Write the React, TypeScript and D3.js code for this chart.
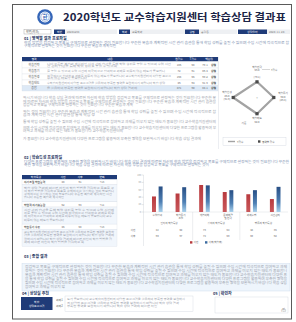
import React from "react";
import * as d3 from "d3";

const W = 296;
const H = 322;
const FONT = "'Noto Sans CJK KR', 'Noto Sans', sans-serif";
const NAVY = "#1f3b78";
const GREY = "#9aa0ab";

const titleText = "2020학년도 교수학습지원센터 학습상담 결과표";
const infoLabels = ["학번", "학과", "성명", "상담일자"];
const infoValues = ["20201234", "교육학과", "홍길동", "2020. 11. 20."];

const profileAreas = ["학습전략", "학습동기", "학습환경", "학습태도", "종합"];
const profileRaw = [185, 72, 168, 46, 471];
const profileT = [58, 61, 55, 64, 60];
const profilePct = ["79.1", "86.4", "69.2", "91.9", "84.1"];

const radarAxes = ["학습전략", "학습동기", "학습태도", "학습환경"];
const radarValues = [56, 60, 58, 85];

const barCategories = ["수업참여", "학습동기 조절", "개념이해", "문제해결 및 전략", "과제수행", "시간관리"];
const groupLabels = ["인지적 학습특성", "정의적 학습특성", "행동적 학습특성"];
const preScores = [42, 50, 73, 54, 48, 35];
const postScores = [69, 67, 72, 59, 59, 68];
const seriesNames = ["사전", "사후"];
const yTicks = [0, 20, 40, 60, 80, 100];

const traitRows = ["자기조절 학습능력", "학업적 자기효능감", "학습동기 수준"];
const traitPre = [48, 52, 45];
const traitPost = [61, 63, 58];

const filler =
  "학습 상담 결과에 따르면 자신의 학습 방법을 점검하고 목표를 구체적으로 설정하는 것이 필요합니다 꾸준한 복습과 계획적인 시간 관리 습관을 통해 학업 성취를 높일 수 있으며 수업 시간에 적극적으로 참여하고 과제를 미루지 않는 태도가 중요합니다 교수학습지원센터의 다양한 프로그램을 활용하여 부족한 영역을 보완하시기 바랍니다 ";

function fill(n: number, off: number) {
  let s = "";
  let i = off % filler.length;
  while (s.length < n) {
    s += filler[i];
    i = (i + 1) % filler.length;
  }
  return s;
}

let seed = 0;
function Line({ x, y, w, size = 3, color = GREY, weight = 400 }: any) {
  seed += 17;
  const n = Math.max(3, Math.round(w / (size * 0.95)));
  return (
    <text x={x} y={y} fontSize={size} fill={color} fontWeight={weight} textLength={w} lengthAdjust="spacingAndGlyphs">
      {fill(n, seed)}
    </text>
  );
}

function Heading({ x, y, num, label }: any) {
  return (
    <text x={x} y={y} fontSize={4} fontWeight={700} fill="#23345e">
      {num} | {label}
    </text>
  );
}

export default function App() {
  seed = 0;
  const xBand = d3.scaleBand<string>().domain(barCategories).range([145.5, 287]).padding(0);
  const xInner = d3.scaleBand<string>().domain(seriesNames).range([-5.3, 5.3]).paddingInner(0.4);
  const yScale = d3.scaleLinear().domain([0, 100]).range([212, 175]);

  const rScale = d3.scaleLinear().domain([0, 100]).range([0, 28]);
  const cx = 257;
  const cy = 97.5;
  const radial = d3
    .lineRadial<number>()
    .angle((_, i) => (i * Math.PI) / 2)
    .radius((d) => rScale(d))
    .curve(d3.curveLinearClosed);
  const radarPts = radarValues.map((v, i) => {
    const a = (i * Math.PI) / 2;
    return [cx + Math.sin(a) * rScale(v), cy - Math.cos(a) * rScale(v)];
  });

  const infoBoxes = [
    { x: 54, w: 11, fx: 65, fw: 52 },
    { x: 119, w: 11, fx: 130, fw: 55 },
    { x: 185, w: 14, fx: 199, fw: 38 },
    { x: 238, w: 29, fx: 267, fw: 23 },
  ];

  const t1Rows = [
    { y0: 61.5, y1: 68 },
    { y0: 68, y1: 74 },
    { y0: 74, y1: 80 },
    { y0: 80, y1: 85.5 },
    { y0: 85.5, y1: 91 },
  ];

  return (
    <div style={{ position: "absolute", left: 0, top: 0, width: W, height: H, background: "#fff" }}>
      <svg width={W} height={H} viewBox={`0 0 ${W} ${H}`} style={{ display: "block", fontFamily: FONT }}>
        <defs>
          <linearGradient id="gPre" x1="0" y1="0" x2="0" y2="1">
            <stop offset="0" stopColor="#b83a3e" />
            <stop offset="1" stopColor="#c9585b" />
          </linearGradient>
          <linearGradient id="gPost" x1="0" y1="0" x2="0" y2="1">
            <stop offset="0" stopColor="#284f85" />
            <stop offset="0.6" stopColor="#4f80b4" />
            <stop offset="1" stopColor="#a9d1ec" />
          </linearGradient>
        </defs>
        <rect x={0} y={0} width={W} height={H} fill="#fff" />
        <rect x={12.5} y={4.5} width={279} height={314.5} fill="#fff" stroke="#5a5a5a" strokeWidth={1} />

        {/* title */}
        <circle cx={45} cy={17} r={7.8} fill="#3566b8" />
        <circle cx={45} cy={17} r={5.4} fill="#fff" />
        <circle cx={45} cy={17} r={4.2} fill="none" stroke="#3566b8" strokeWidth={0.5} />
        <text x={45} y={19.1} fontSize={5.5} fontWeight={700} fill="#3566b8" textAnchor="middle">한</text>
        <text x={63} y={21} fontSize={10} fontWeight={700} fill="#1b2446" textLength={223} lengthAdjust="spacingAndGlyphs">
          {titleText}
        </text>

        {/* info row */}
        <rect x={24} y={29.5} width={27} height={4.5} fill="#fff" stroke="#999" strokeWidth={0.4} />
        <text x={26} y={32.9} fontSize={3} fill="#555">학번(학과)</text>
        {infoBoxes.map((b, i) => (
          <g key={i}>
            <rect x={b.x} y={29.5} width={b.w} height={4.5} fill={NAVY} />
            <text x={b.x + b.w / 2} y={32.9} fontSize={2.8} fill="#fff" textAnchor="middle">{infoLabels[i]}</text>
            <rect x={b.fx} y={29.5} width={b.fw} height={4.5} fill="#eef0f3" />
            <text x={b.fx + 2} y={32.9} fontSize={2.8} fill="#777">{infoValues[i]}</text>
          </g>
        ))}

        {/* section 01 */}
        <Heading x={24} y={39.5} num="01" label="영역별 결과 프로파일" />
        <Line x={24} y={43.5} w={265} color="#7d8fb0" />
        <Line x={24} y={47} w={92} color="#7d8fb0" />

        <rect x={22} y={57} width={196} height={4.5} fill={NAVY} />
        {["영역", "내용", "원점수", "T점수", "백분위"].map((h, i) => (
          <text key={h} x={[34, 110, 179, 193, 209][i]} y={60.3} fontSize={2.8} fill="#fff" textAnchor="middle">{h}</text>
        ))}
        {t1Rows.map((r, i) => (
          <g key={i}>
            <rect x={22} y={r.y0} width={196} height={r.y1 - r.y0} fill={i === 4 ? "#dde9f6" : "#fff"} stroke="#d4dae3" strokeWidth={0.3} />
            <text x={34} y={(r.y0 + r.y1) / 2 + 1} fontSize={3} fill="#666" textAnchor="middle">{profileAreas[i]}</text>
            {i === 0 ? (
              <>
                <Line x={47} y={64.6} w={124} size={2.6} />
                <Line x={47} y={67.3} w={70} size={2.6} />
              </>
            ) : i === 2 ? (
              <>
                <Line x={47} y={76.8} w={124} size={2.6} />
                <Line x={47} y={79.3} w={40} size={2.6} />
              </>
            ) : (
              <Line x={47} y={(r.y0 + r.y1) / 2 + 1} w={i === 4 ? 90 : 118} size={2.6} />
            )}
            <text x={179} y={(r.y0 + r.y1) / 2 + 1} fontSize={2.8} fill="#666" textAnchor="middle">{profileRaw[i]}</text>
            <text x={193} y={(r.y0 + r.y1) / 2 + 1} fontSize={2.8} fill="#666" textAnchor="middle">{profileT[i]}</text>
            <text x={205} y={(r.y0 + r.y1) / 2 + 1} fontSize={2.8} fill="#666" textAnchor="middle">{profilePct[i]}</text>
            <text x={213.5} y={(r.y0 + r.y1) / 2 + 1} fontSize={2.8} fontWeight={700} fill="#222" textAnchor="middle">상위</text>
          </g>
        ))}

        <Line x={23} y={99} w={193} />
        <Line x={23} y={102.5} w={193} />
        <Line x={23} y={106} w={110} />
        <Line x={23} y={112.5} w={193} />
        <Line x={23} y={116} w={72} />
        <Line x={23} y={122.5} w={193} />
        <Line x={23} y={128.5} w={193} />
        <Line x={23} y={132} w={100} />
        <Line x={23} y={139.5} w={178} />

        {/* radar panel */}
        <line x1={218.5} y1={57} x2={218.5} y2={149} stroke="#d8dde5" strokeWidth={0.5} />
        <path d={radial(radarValues) || ""} transform={`translate(${cx},${cy})`} fill="none" stroke="#a3a3a3" strokeWidth={2.2} strokeLinejoin="round" />
        {radarPts.map((p, i) => (
          <rect key={i} x={p[0] - 1.6} y={p[1] - 1.6} width={3.2} height={3.2} fill="#4a4a4a" />
        ))}
        <text x={257} y={99} fontSize={2.6} fill="#999" textAnchor="middle">T</text>
        <text x={257} y={68} fontSize={2.6} fill="#666" textAnchor="middle">{radarAxes[0]}</text>
        <text x={257} y={71} fontSize={2.6} fill="#666" textAnchor="middle">{radarValues[0]}.0</text>
        <text x={257} y={77.5} fontSize={2.6} fill="#666" textAnchor="middle">({profilePct[0]})</text>
        <line x1={262} y1={69.5} x2={270} y2={69.5} stroke="#999" strokeWidth={0.4} />
        <text x={271} y={70.5} fontSize={2.6} fill="#666">T점수</text>
        <text x={283} y={94} fontSize={2.6} fill="#666" textAnchor="middle">{radarAxes[1]}</text>
        <text x={283} y={97.5} fontSize={2.6} fill="#666" textAnchor="middle">{radarValues[1]}.0</text>
        <text x={283} y={101} fontSize={2.6} fill="#666" textAnchor="middle">({profilePct[1]})</text>
        <text x={257} y={119} fontSize={2.6} fill="#666" textAnchor="middle">{radarAxes[2]}</text>
        <text x={257} y={122.5} fontSize={2.6} fill="#666" textAnchor="middle">{radarValues[2]}.0</text>
        <text x={244} y={124} fontSize={2.6} fill="#666" textAnchor="middle">기준</text>
        <text x={227} y={93} fontSize={2.6} fill="#666" textAnchor="middle">{radarAxes[3]}</text>
        <text x={227} y={96.5} fontSize={2.6} fill="#666" textAnchor="middle">{radarValues[3]}.0</text>
        <text x={227} y={100} fontSize={2.6} fill="#666" textAnchor="middle">({profilePct[3]})</text>
        <rect x={223} y={137.5} width={63} height={8} fill="#fff" stroke="#cfd5de" strokeWidth={0.4} />
        <line x1={228} y1={141.5} x2={235} y2={141.5} stroke="#a3a3a3" strokeWidth={1.4} />
        <text x={237} y={142.5} fontSize={2.6} fill="#555">T점수</text>
        <rect x={258} y={140.3} width={2.4} height={2.4} fill="#4a4a4a" />
        <text x={262} y={142.5} fontSize={2.6} fill="#555">영역별 점수</text>

        {/* section 02 */}
        <Heading x={24} y={158.5} num="02" label="학습특성 프로파일" />
        <Line x={24} y={162.5} w={265} color="#7d8fb0" />
        <Line x={24} y={166} w={185} color="#7d8fb0" />

        <rect x={22} y={175} width={95} height={4.5} fill={NAVY} />
        {["학습특성", "사전", "사후", "변화"].map((h, i) => (
          <text key={h} x={[36, 63, 80, 102][i]} y={178.3} fontSize={2.8} fill="#fff" textAnchor="middle">{h}</text>
        ))}
        {traitRows.map((t, i) => {
          const y0 = 179.5 + i * 22.3;
          return (
            <g key={t}>
              <rect x={22} y={y0} width={95} height={5.2} fill="#fff" stroke="#d4dae3" strokeWidth={0.3} />
              <text x={24} y={y0 + 3.7} fontSize={2.8} fill="#555" fontWeight={700}>{t}</text>
              <text x={63} y={y0 + 3.7} fontSize={2.8} fill="#666" textAnchor="middle">{traitPre[i]}</text>
              <text x={80} y={y0 + 3.7} fontSize={2.8} fill="#666" textAnchor="middle">{traitPost[i]}</text>
              <text x={102} y={y0 + 3.7} fontSize={2.8} fill="#666" textAnchor="middle">+{traitPost[i] - traitPre[i]}</text>
              <rect x={22} y={y0 + 5.2} width={95} height={17.1} fill="#f1f6fc" stroke="#d4dae3" strokeWidth={0.3} />
              <Line x={24} y={y0 + 9} w={90} size={2.6} />
              <Line x={24} y={y0 + 12.3} w={90} size={2.6} />
              <Line x={24} y={y0 + 15.6} w={88} size={2.6} />
              <Line x={24} y={y0 + 18.9} w={i === 2 ? 60 : 40} size={2.6} />
            </g>
          );
        })}

        {/* bar chart */}
        <line x1={143.5} y1={175} x2={143.5} y2={246} stroke="#c9ced6" strokeWidth={0.4} />
        {yTicks.map((t) => (
          <g key={t}>
            <line x1={141.5} y1={yScale(t)} x2={143.5} y2={yScale(t)} stroke="#aaa" strokeWidth={0.3} />
            <text x={141} y={yScale(t) + 0.8} fontSize={2.2} fill="#999" textAnchor="end">{t}</text>
          </g>
        ))}
        <line x1={143.5} y1={212} x2={288} y2={212} stroke="#d0d4da" strokeWidth={0.4} />
        {barCategories.map((c, i) => {
          const gx = (xBand(c) || 0) + xBand.bandwidth() / 2;
          const vals = [preScores[i], postScores[i]];
          return (
            <g key={c}>
              {seriesNames.map((s, j) => (
                <rect
                  key={s}
                  x={gx + (xInner(s) || 0)}
                  y={yScale(vals[j])}
                  width={xInner.bandwidth()}
                  height={yScale(0) - yScale(vals[j])}
                  fill={j === 0 ? "url(#gPre)" : "url(#gPost)"}
                />
              ))}
              {c.length > 6 ? (
                <>
                  <text x={gx} y={215.5} fontSize={2.6} fill="#666" textAnchor="middle">{c.slice(0, 4)}</text>
                  <text x={gx} y={218.5} fontSize={2.6} fill="#666" textAnchor="middle">{c.slice(4).trim()}</text>
                </>
              ) : (
                <text x={gx} y={215.5} fontSize={2.6} fill="#666" textAnchor="middle">{c}</text>
              )}
              <text x={gx} y={230.5} fontSize={2.6} fill="#666" textAnchor="middle">{preScores[i]}</text>
              <text x={gx} y={236.5} fontSize={2.6} fill="#666" textAnchor="middle">{postScores[i]}</text>
            </g>
          );
        })}
        {groupLabels.map((g, k) => {
          const a = xBand(barCategories[k * 2]) || 0;
          const b = (xBand(barCategories[k * 2 + 1]) || 0) + xBand.bandwidth();
          return (
            <g key={g}>
              <text x={(a + b) / 2} y={223.5} fontSize={2.6} fill="#666" textAnchor="middle">{g}</text>
              {k > 0 && <line x1={a} y1={212} x2={a} y2={240} stroke="#d0d4da" strokeWidth={0.4} />}
            </g>
          );
        })}
        <text x={133} y={230.5} fontSize={2.6} fill="#666" textAnchor="middle">{seriesNames[0]}</text>
        <text x={133} y={236.5} fontSize={2.6} fill="#666" textAnchor="middle">{seriesNames[1]}</text>
        <rect x={190} y={241.2} width={2.4} height={2.4} fill="#b83a3e" />
        <text x={193.5} y={243.4} fontSize={2.6} fill="#666">{seriesNames[0]}</text>
        <rect x={205} y={241.2} width={2.4} height={2.4} fill="#3a6aa0" />
        <text x={208.5} y={243.4} fontSize={2.6} fill="#666">{seriesNames[1]}(학습후)</text>

        {/* section 03 */}
        <Heading x={24} y={258} num="03" label="종합 결과" />
        <rect x={22} y={263.5} width={268} height={27.5} fill="#eef5fc" stroke="#c8d8ea" strokeWidth={0.4} />
        <Line x={25} y={267.8} w={262} />
        <Line x={25} y={271.8} w={262} />
        <Line x={25} y={275.8} w={262} />
        <Line x={25} y={279.8} w={262} />
        <Line x={25} y={283.8} w={262} />
        <Line x={25} y={287.6} w={40} />

        {/* section 04 */}
        <Heading x={22} y={294.5} num="04" label="상담실 추천" />
        <rect x={21} y={297} width={31.5} height={13} fill={NAVY} />
        <text x={36.7} y={302.5} fontSize={2.8} fill="#fff" textAnchor="middle">학습</text>
        <text x={36.7} y={306.5} fontSize={2.8} fill="#fff" textAnchor="middle">상담프로그램</text>
        <text x={56} y={300.5} fontSize={2.8} fill="#666">과제1</text>
        <text x={56} y={306.5} fontSize={2.8} fill="#666">과제2</text>
        <rect x={65} y={296} width={128} height={15.5} fill="#fff" stroke="#cfd5de" strokeWidth={0.4} />
        <Line x={67} y={299.8} w={118} size={2.7} />
        <Line x={67} y={303.6} w={112} size={2.7} />
        <Line x={67} y={307.4} w={90} size={2.7} />

        {/* section 05 */}
        <Heading x={213} y={294.5} num="05" label="확인자" />
        <rect x={215} y={297} width={73} height={16} fill="#fff" stroke="#cfd5de" strokeWidth={0.4} />
        <text x={286} y={311} fontSize={3} fill="#555" textAnchor="end">(인)</text>
      </svg>
    </div>
  );
}
